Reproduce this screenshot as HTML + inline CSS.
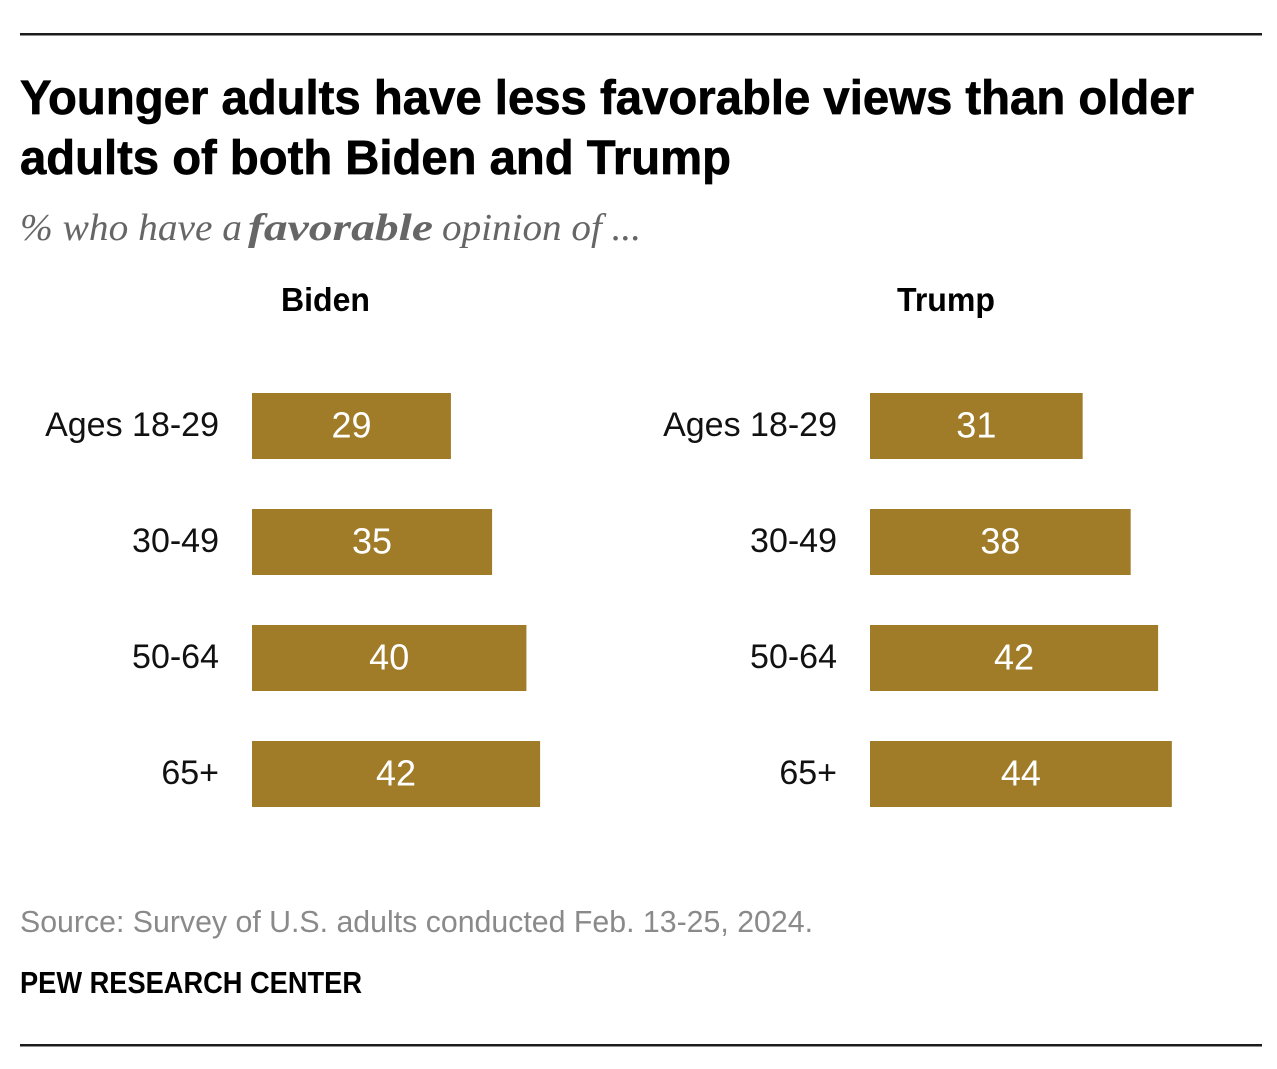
<!DOCTYPE html>
<html lang="en">
<head>
<meta charset="utf-8">
<title>Younger adults have less favorable views than older adults of both Biden and Trump</title>
<style>
  html, body { margin: 0; padding: 0; background: #fff; }
  svg { display: block; }
  text { font-family: "Liberation Sans", sans-serif; }
  .serif { font-family: "Liberation Serif", serif; font-style: italic; fill: #666; }
  .heavy { stroke: #000; stroke-width: 0.7px; }
</style>
</head>
<body>
<svg id="chart" width="1277" height="1069" viewBox="0 0 1277 1069" xmlns="http://www.w3.org/2000/svg">
  <rect x="20" y="33" width="1242" height="2.5" fill="#1c1c1c"/>
  <text class="heavy" x="20" y="114" font-size="48" font-weight="700" fill="#000" textLength="1174" lengthAdjust="spacingAndGlyphs">Younger adults have less favorable views than older</text>
  <text class="heavy" x="20" y="174" font-size="48" font-weight="700" fill="#000" textLength="711" lengthAdjust="spacingAndGlyphs">adults of both Biden and Trump</text>
  <g>
    <text class="serif" x="20" y="240" font-size="38" textLength="222" lengthAdjust="spacingAndGlyphs">% who have a</text>
    <text class="serif" x="248" y="240" font-size="38" font-weight="700" textLength="185" lengthAdjust="spacingAndGlyphs">favorable</text>
    <text class="serif" x="442" y="240" font-size="38" textLength="199" lengthAdjust="spacingAndGlyphs">opinion of ...</text>
  </g>
  <text x="281" y="311" font-size="33" font-weight="700" fill="#000" textLength="89" lengthAdjust="spacingAndGlyphs">Biden</text>
  <text x="897" y="311" font-size="33" font-weight="700" fill="#000" textLength="98" lengthAdjust="spacingAndGlyphs">Trump</text>
  <g id="biden-panel"></g>
  <g id="trump-panel"></g>
  <text x="20" y="932" font-size="31" fill="#8a8a8a" textLength="793" lengthAdjust="spacingAndGlyphs">Source: Survey of U.S. adults conducted Feb. 13-25, 2024.</text>
  <text x="20" y="993" font-size="31" font-weight="700" fill="#000" textLength="342" lengthAdjust="spacingAndGlyphs">PEW RESEARCH CENTER</text>
  <rect x="20" y="1044" width="1242" height="2.5" fill="#1c1c1c"/>
</svg>
<script>
const categories = ['Ages 18-29', '30-49', '50-64', '65+'];
const bidenValues = [29, 35, 40, 42];
const trumpValues = [31, 38, 42, 44];

const SVG_NS = 'http://www.w3.org/2000/svg';
const UNIT_WIDTH = 6.86;
const BAR_HEIGHT = 66;
const ROW_START = 393;
const ROW_STEP = 116;
const LABEL_GAP = 33;

function xLength(value) {
  return value * UNIT_WIDTH;
}

function yTop(index) {
  return ROW_START + ROW_STEP * index;
}

function drawPanel(panelId, prefix, values, x0) {
  const panel = document.getElementById(panelId);
  categories.forEach(function (category, i) {
    const top = yTop(i);
    const width = xLength(values[i]);

    const label = document.createElementNS(SVG_NS, 'text');
    
    
    label.setAttribute('x', x0 - LABEL_GAP);
    label.setAttribute('y', top + 43);
    label.setAttribute('text-anchor', 'end');
    label.setAttribute('font-size', '34');
    label.setAttribute('fill', '#111');
    label.textContent = category;
    panel.appendChild(label);

    const bar = document.createElementNS(SVG_NS, 'rect');
    
    
    bar.setAttribute('x', x0);
    bar.setAttribute('y', top);
    bar.setAttribute('width', width);
    bar.setAttribute('height', BAR_HEIGHT);
    bar.setAttribute('fill', '#a07c28');
    panel.appendChild(bar);

    const valueLabel = document.createElementNS(SVG_NS, 'text');
    
    
    valueLabel.setAttribute('x', x0 + width / 2);
    valueLabel.setAttribute('y', top + 44.5);
    valueLabel.setAttribute('text-anchor', 'middle');
    valueLabel.setAttribute('font-size', '36');
    valueLabel.setAttribute('fill', '#fff');
    valueLabel.textContent = values[i];
    panel.appendChild(valueLabel);
  });
}

drawPanel('biden-panel', 'biden', bidenValues, 252);
drawPanel('trump-panel', 'trump', trumpValues, 870);
</script>
</body>
</html>
